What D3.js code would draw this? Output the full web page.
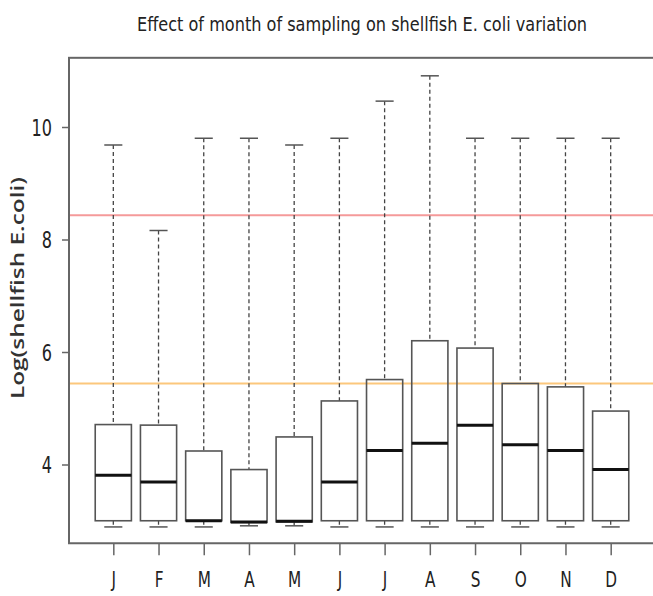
<!DOCTYPE html>
<html>
<head>
<meta charset="utf-8">
<script src="https://cdn.jsdelivr.net/npm/d3@7"></script>
<style>
  body { margin: 0; background: #fff; }
  svg { display: block; }
</style>
</head>
<body>
<div id="chart"></div>
<script>
// month labels and box statistics (log E. coli)
var months = ["J", "F", "M", "A", "M", "J", "J", "A", "S", "O", "N", "D"];
var whiskerHigh = [9.68, 8.16, 9.8, 9.8, 9.68, 9.8, 10.46, 10.91, 9.8, 9.8, 9.8, 9.8];
var q3 = [4.71, 4.70, 4.24, 3.91, 4.49, 5.13, 5.51, 6.20, 6.07, 5.44, 5.38, 4.95];
var median = [3.81, 3.69, 3.0, 2.98, 2.99, 3.69, 4.25, 4.38, 4.70, 4.35, 4.25, 3.91];
var q1 = [3.0, 3.0, 3.0, 2.97, 2.98, 3.0, 3.0, 3.0, 3.0, 3.0, 3.0, 3.0];
var whiskerLow = [2.89, 2.89, 2.89, 2.91, 2.91, 2.89, 2.89, 2.89, 2.89, 2.89, 2.89, 2.89];
var yTicks = [4, 6, 8, 10];
var limits = [
  { value: 8.43, color: "#f59a9a" },
  { value: 5.44, color: "#fcc77c" }
];

var width = 653, height = 596;
var condensed = "'DejaVu Sans Condensed', 'Liberation Sans Narrow', 'Open Sans', sans-serif";

var svg = d3.select("#chart").append("svg")
  .attr("width", width)
  .attr("height", height);

// R style boxplot: positions 1..12 with 4% padding
var x = d3.scaleLinear().domain([0.02, 12.98]).range([69, 655]);
var y = d3.scaleLinear().domain([4, 10]).range([464.5, 127]);
var plotTop = y(11.23), plotBottom = y(2.6);
var step = x(2) - x(1);
var boxW = step * 0.8;
var capW = boxW * 0.5;

var data = months.map(function(m, i) {
  return { pos: i + 1, label: m, hi: whiskerHigh[i], q3: q3[i], med: median[i], q1: q1[i], lo: whiskerLow[i] };
});

// squeeze / stretch axis text so it looks like the narrow tall font of the original
function stretch(sel, sx, sy) {
  sel.each(function() {
    var t = d3.select(this);
    var tx = +t.attr("x") || 0, ty = +t.attr("y") || 0;
    t.attr("x", 0).attr("y", 0)
      .attr("transform", "translate(" + tx + "," + ty + ") scale(" + sx + "," + sy + ")");
  });
}

// title
svg.append("text")
  .attr("x", 362)
  .attr("y", 31)
  .attr("text-anchor", "middle")
  .attr("textLength", 450)
  .attr("lengthAdjust", "spacingAndGlyphs")
  .style("font-family", condensed)
  .style("font-size", "20px")
  .style("fill", "#222")
  .text("Effect of month of sampling on shellfish E. coli variation");

// reference lines
svg.selectAll(".limit")
  .data(limits)
  .enter().append("line")
  .attr("class", "limit")
  .attr("x1", x(0.02)).attr("x2", width)
  .attr("y1", function(d) { return y(d.value); })
  .attr("y2", function(d) { return y(d.value); })
  .attr("stroke", function(d) { return d.color; })
  .attr("stroke-width", 2);

var g = svg.selectAll(".box")
  .data(data)
  .enter().append("g")
  .attr("class", "box");

// whiskers
g.append("line")
  .attr("x1", function(d) { return x(d.pos); })
  .attr("x2", function(d) { return x(d.pos); })
  .attr("y1", function(d) { return y(d.hi); })
  .attr("y2", function(d) { return y(d.q3); })
  .attr("stroke", "#444")
  .attr("stroke-width", 1.3)
  .attr("stroke-dasharray", "4,3");
g.append("line")
  .attr("x1", function(d) { return x(d.pos); })
  .attr("x2", function(d) { return x(d.pos); })
  .attr("y1", function(d) { return y(d.q1); })
  .attr("y2", function(d) { return y(d.lo); })
  .attr("stroke", "#444")
  .attr("stroke-width", 1.3)
  .attr("stroke-dasharray", "4,3");

// caps
["hi", "lo"].forEach(function(k) {
  g.append("line")
    .attr("x1", function(d) { return x(d.pos) - capW / 2; })
    .attr("x2", function(d) { return x(d.pos) + capW / 2; })
    .attr("y1", function(d) { return y(d[k]); })
    .attr("y2", function(d) { return y(d[k]); })
    .attr("stroke", "#555")
    .attr("stroke-width", 1.5);
});

// boxes
g.append("rect")
  .attr("x", function(d) { return x(d.pos) - boxW / 2; })
  .attr("y", function(d) { return y(d.q3); })
  .attr("width", boxW)
  .attr("height", function(d) { return y(d.q1) - y(d.q3); })
  .attr("fill", "none")
  .attr("stroke", "#555")
  .attr("stroke-width", 1.6);

// medians
g.append("line")
  .attr("x1", function(d) { return x(d.pos) - boxW / 2; })
  .attr("x2", function(d) { return x(d.pos) + boxW / 2; })
  .attr("y1", function(d) { return y(d.med); })
  .attr("y2", function(d) { return y(d.med); })
  .attr("stroke", "#111")
  .attr("stroke-width", 3);

// frame
svg.append("rect")
  .attr("x", x(0.02))
  .attr("y", plotTop)
  .attr("width", x(12.98) - x(0.02))
  .attr("height", plotBottom - plotTop)
  .attr("fill", "none")
  .attr("stroke", "#666")
  .attr("stroke-width", 2);

// y axis
var yAxis = svg.append("g")
  .attr("transform", "translate(" + x(0.02) + ",0)")
  .call(d3.axisLeft(y).tickValues(yTicks).tickFormat(d3.format("d")).tickSize(7).tickPadding(10));
yAxis.select(".domain").remove();
yAxis.selectAll("line").attr("stroke", "#666").attr("stroke-width", 1.5);
yAxis.selectAll("text")
  .attr("dy", "0.36em")
  .style("font-family", condensed)
  .style("font-size", "21px")
  .style("fill", "#222")
  .call(stretch, 0.85, 1.12);

// x axis
var xAxis = svg.append("g")
  .attr("transform", "translate(0," + plotBottom + ")")
  .call(d3.axisBottom(x).tickValues(data.map(function(d) { return d.pos; }))
    .tickFormat(function(d, i) { return months[i]; })
    .tickSize(12).tickPadding(16));
xAxis.select(".domain").remove();
xAxis.selectAll("line").attr("stroke", "#666").attr("stroke-width", 1.5);
xAxis.selectAll("text")
  .style("font-family", condensed)
  .style("font-size", "20px")
  .style("fill", "#222")
  .call(stretch, 0.85, 1.08);

// y label
svg.append("text")
  .attr("transform", "translate(24," + 288 + ") rotate(-90)")
  .attr("text-anchor", "middle")
  .attr("textLength", 222)
  .attr("lengthAdjust", "spacingAndGlyphs")
  .style("font-family", "'Open Sans', 'Liberation Sans', sans-serif")
  .style("font-weight", "600")
  .style("font-size", "18.5px")
  .style("fill", "#333")
  .text("Log(shellfish E.coli)");
</script>
</body>
</html>
